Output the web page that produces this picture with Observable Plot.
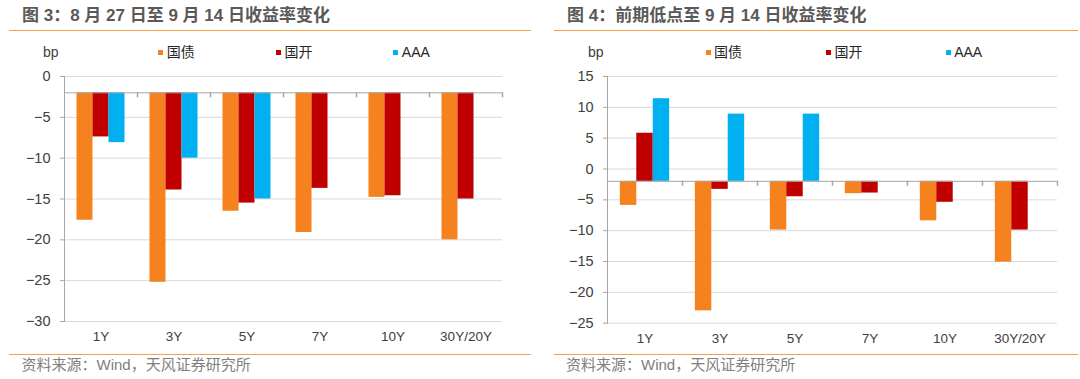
<!DOCTYPE html>
<html><head><meta charset="utf-8">
<script src="https://cdn.jsdelivr.net/npm/d3@7"></script>
<script src="https://cdn.jsdelivr.net/npm/@observablehq/plot@0.6"></script>
<style>
body{margin:0;background:#fff;}
#root{position:relative;width:1080px;height:379px;overflow:hidden;background:#fff;font-family:"Liberation Sans","Noto Sans CJK SC",sans-serif;}
.title{position:absolute;top:6px;font-size:17px;font-weight:bold;color:#595959;white-space:nowrap;line-height:20px;}
.rule{position:absolute;height:1.5px;background:#f7a04b;}
.src{position:absolute;top:356px;font-size:15px;color:#808080;white-space:nowrap;line-height:18px;}
.unit{position:absolute;top:44px;font-size:14px;color:#404040;line-height:16px;}
.leg{position:absolute;top:44px;font-size:14px;color:#262626;white-space:nowrap;line-height:16px;display:flex;align-items:center;}
.leg i{display:inline-block;width:5px;height:5px;margin-right:3.5px;}
.chart{position:absolute;top:60px;}
</style>
</head>
<body>
<div id="root">
  <div class="title" style="left:22px">图 3：8 月 27 日至 9 月 14 日收益率变化</div>
  <div class="rule" style="left:9px;width:522px;top:29.5px"></div>
  <div class="title" style="left:567px">图 4：前期低点至 9 月 14 日收益率变化</div>
  <div class="rule" style="left:554px;width:524px;top:29.5px"></div>
  <div class="unit" style="left:43px">bp</div>
  <div class="unit" style="left:588px">bp</div>
  <div id="leg3"></div>
  <div id="leg4"></div>
  <div class="chart" id="c3" style="left:0px"></div>
  <div class="chart" id="c4" style="left:540px"></div>
  <div class="rule" style="left:9px;width:522px;top:353.5px"></div>
  <div class="rule" style="left:554px;width:524px;top:353.5px"></div>
  <div class="src" style="left:21.5px">资料来源：Wind，天风证券研究所</div>
  <div class="src" style="left:566px">资料来源：Wind，天风证券研究所</div>
</div>
<script>
// ---- data ----
const categories = ["1Y", "3Y", "5Y", "7Y", "10Y", "30Y/20Y"];
const series = ["国债", "国开", "AAA"];
const colors = ["#F5821F", "#C00000", "#00B0F0"];
const baseline = -2; // category axis crosses the value axis at -2 bp

// 图 3：8 月 27 日至 9 月 14 日收益率变化 (bp)
const fig3Guozhai = [-17.6, -25.2, -16.5, -19.1, -14.8, -20.0];
const fig3Guokai  = [-7.4, -13.9, -15.5, -13.7, -14.6, -15.0];
const fig3AAA     = [-8.1, -10.0, -15.0, null, null, null];
const fig3Ticks   = [0, -5, -10, -15, -20, -25, -30];

// 图 4：前期低点至 9 月 14 日收益率变化 (bp)
const fig4Guozhai = [-5.9, -23.0, -9.9, -4.0, -8.4, -15.1];
const fig4Guokai  = [5.8, -3.3, -4.5, -3.9, -5.4, -9.9];
const fig4AAA     = [11.4, 8.9, 8.9, null, null, null];
const fig4Ticks   = [15, 10, 5, 0, -5, -10, -15, -20, -25];

function toRows(cols) {
  const out = [];
  categories.forEach((c, i) => series.forEach((s, j) => {
    const v = cols[j][i];
    if (v != null) out.push({cat: c, series: s, value: v});
  }));
  return out;
}

const tickDown = {draw(ctx, l) { ctx.moveTo(0, 0); ctx.lineTo(0, l); }};
const axisGray = "#a6a6a6";

function chart({rows, ticks, marginLeft, marginRight, height}) {
  return Plot.plot({
    width: 540, height,
    marginTop: 16, marginBottom: 30, marginLeft, marginRight,
    style: {fontFamily: '"Liberation Sans","Noto Sans CJK SC",sans-serif', background: "transparent", overflow: "visible"},
    fx: {domain: categories, padding: 0},
    x: {domain: series, paddingInner: 0, paddingOuter: 0.78, axis: null, round: false},
    y: {domain: d3.extent(ticks)},
    color: {domain: series, range: colors},
    marks: [
      Plot.gridY(ticks, {stroke: "#d9d9d9", strokeOpacity: 1}),
      Plot.barY(rows, {fx: "cat", x: "series", y1: baseline, y2: "value", fill: "series"}),
      Plot.ruleY([baseline], {stroke: axisGray}),
      Plot.vector(categories, {fx: d => d, y: baseline, frameAnchor: "right", length: 4, anchor: "start", shape: tickDown, stroke: axisGray}),
      Plot.frame({anchor: "left", stroke: axisGray, facetAnchor: "left"}),
      Plot.axisY(ticks, {tickSize: 4, tickPadding: 10, stroke: axisGray, fill: "#404040", fontSize: 14.5, label: null}),
      Plot.axisFx({anchor: "bottom", tickSize: 0, tickPadding: 10, fill: "#404040", fontSize: 13.5, label: null})
    ]
  });
}

function legend(el, positions) {
  series.forEach((s, j) => {
    const d = document.createElement("div");
    d.className = "leg";
    d.style.left = positions[j] + "px";
    d.innerHTML = `<i style="background:${colors[j]}"></i>${s}`;
    el.appendChild(d);
  });
}

document.getElementById("c3").appendChild(chart({
  rows: toRows([fig3Guozhai, fig3Guokai, fig3AAA]), ticks: fig3Ticks,
  marginLeft: 63, marginRight: 37, height: 291
}));
document.getElementById("c4").appendChild(chart({
  rows: toRows([fig4Guozhai, fig4Guokai, fig4AAA]), ticks: fig4Ticks,
  marginLeft: 66.7, marginRight: 23.3, height: 292.7
}));
legend(document.getElementById("leg3"), [158.3, 276, 393.3]);
legend(document.getElementById("leg4"), [705.5, 826, 945.7]);
</script>
</body></html>
